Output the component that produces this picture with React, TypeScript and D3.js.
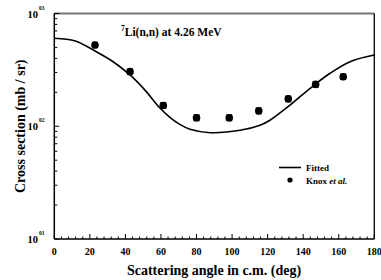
import React from "react";
import * as d3 from "d3";

const fitAngles = [0, 11.8, 22.9, 32.5, 42.6, 51, 59.4, 65, 70.6, 76.3, 87.6, 104.5, 115.7, 121.3, 132.6, 143.9, 155.1, 166.4, 180];
const fitValues = [603, 570, 465, 379, 285, 209, 145, 120, 104, 94, 87.7, 92, 102, 113, 154, 217, 295, 374, 428];
const dataAngles = [22.9, 42.6, 61.3, 80, 98.4, 115, 131.6, 147, 162.5];
const dataValues = [526, 305, 153, 119, 119, 137, 175, 235, 275];
const dataErrors = [28, 17, 9, 7, 7, 8, 10, 13, 15];
const xTicks = [0, 20, 40, 60, 80, 100, 120, 140, 160, 180];
const yTickLabels = ["03", "02", "01"];

export default function App() {
  const W = 381, H = 280;
  const left = 54.3, right = 374.3, top = 13.5, bottom = 239;
  const x = d3.scaleLinear().domain([0, 180]).range([left, right]);
  const y = d3.scaleLog().domain([10, 1000]).range([bottom, top]);
  const line = d3.line<number>()
    .x((_, i) => x(fitAngles[i]))
    .y((d) => y(d))
    .curve(d3.curveCatmullRom.alpha(0.5));
  const fs = { fontFamily: "Liberation Serif, Times New Roman, serif" };
  const minorX = d3.range(0, 181, 4).filter((v) => v % 20 !== 0);
  const yMinor: number[] = [];
  [10, 100].forEach((b) => { for (let k = 2; k <= 9; k++) yMinor.push(b * k); });
  const yMajor = [1000, 100, 10];

  return (
    <svg width={W} height={H} style={{ position: "absolute", left: 0, top: 0 }}>
      <rect x={0} y={0} width={W} height={H} fill="white" />
      {/* frame */}
      <line x1={left} y1={top} x2={right} y2={top} stroke="#777" strokeWidth={2} />
      <line x1={right} y1={top} x2={right} y2={bottom} stroke="#000" strokeWidth={1.3} />
      <line x1={left} y1={top} x2={left} y2={bottom} stroke="#000" strokeWidth={1.5} />
      <line x1={left} y1={bottom} x2={right} y2={bottom} stroke="#000" strokeWidth={1.5} />
      {/* x ticks */}
      {xTicks.map((t) => (
        <g key={"xt" + t}>
          <line x1={x(t)} x2={x(t)} y1={bottom} y2={bottom - 5} stroke="#000" strokeWidth={1} />
          <text x={x(t)} y={255} fontSize={10} fontWeight="bold" textAnchor="middle" style={fs}>{t}</text>
        </g>
      ))}
      {minorX.map((t) => (
        <line key={"xm" + t} x1={x(t)} x2={x(t)} y1={bottom} y2={bottom - 2.5} stroke="#000" strokeWidth={1} />
      ))}
      {/* y ticks */}
      {yMajor.map((v, i) => (
        <g key={"ym" + v}>
          <line x1={left} x2={left + 5} y1={y(v)} y2={y(v)} stroke="#000" strokeWidth={1} />
          <text x={38} y={y(v) + 4} fontSize={10.5} fontWeight="bold" textAnchor="end" style={fs}>10</text>
          <text x={39} y={y(v) - 4} fontSize={5.5} fontWeight="bold" style={fs}>{yTickLabels[i]}</text>
        </g>
      ))}
      {yMinor.map((v) => (
        <line key={"yn" + v} x1={left} x2={left + 3} y1={y(v)} y2={y(v)} stroke="#000" strokeWidth={1} />
      ))}
      {/* fitted curve */}
      <path d={line(fitValues) || ""} fill="none" stroke="#000" strokeWidth={1.6} />
      {/* data points */}
      {dataAngles.map((a, i) => {
        const cx = x(a);
        const yl = y(dataValues[i] - dataErrors[i]);
        const yh = y(dataValues[i] + dataErrors[i]);
        return (
          <g key={"p" + i}>
            <line x1={cx} x2={cx} y1={yl} y2={yh} stroke="#000" strokeWidth={1.2} />
            <line x1={cx - 3} x2={cx + 3} y1={yl} y2={yl} stroke="#000" strokeWidth={1.2} />
            <line x1={cx - 3} x2={cx + 3} y1={yh} y2={yh} stroke="#000" strokeWidth={1.2} />
            <circle cx={cx} cy={y(dataValues[i])} r={3.8} fill="#000" />
          </g>
        );
      })}
      {/* title */}
      <text x={121} y={36} fontSize={11.5} fontWeight="bold" style={fs}>
        <tspan fontSize={7.5} dy={-5}>7</tspan>
        <tspan dy={5}>Li(n,n) at 4.26 MeV</tspan>
      </text>
      {/* legend */}
      <line x1={279} x2={301} y1={167.5} y2={167.5} stroke="#000" strokeWidth={1.6} />
      <text x={306} y={171} fontSize={9} fontWeight="bold" style={fs}>Fitted</text>
      <circle cx={290} cy={180} r={2.6} fill="#000" />
      <text x={306} y={183.5} fontSize={9} fontWeight="bold" style={fs}>Knox <tspan fontStyle="italic">et al.</tspan></text>
      {/* axis titles */}
      <text x={214} y={275} fontSize={14} fontWeight="bold" textAnchor="middle" style={fs}>Scattering angle in c.m. (deg)</text>
      <text transform={`translate(25,${(top + bottom) / 2}) rotate(-90)`} fontSize={14} fontWeight="bold" textAnchor="middle" style={fs}>Cross section (mb / sr)</text>
    </svg>
  );
}
